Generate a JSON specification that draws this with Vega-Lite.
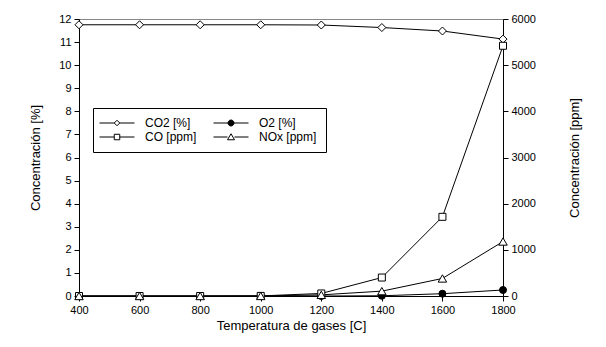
{
  "$schema": "https://vega.github.io/schema/vega-lite/v6.json",
  "width": 424,
  "height": 277,
  "autosize": "none",
  "padding": {"left": 79, "top": 19, "right": 103, "bottom": 51},
  "background": "white",
  "config": {
    "font": "Liberation Sans",
    "view": {"stroke": "#888888", "strokeWidth": 1},
    "axis": {
      "domainColor": "black",
      "tickColor": "black",
      "labelColor": "black",
      "titleColor": "black",
      "labelFontSize": 11,
      "titleFontSize": 13,
      "titleFontWeight": "normal",
      "grid": false,
      "tickSize": 5,
      "labelPadding": 3,
      "labelFlush": false
    },
    "legend": {"labelFontSize": 12, "labelColor": "black"}
  },
  "data": {
    "values": [
      {"T": 400, "serie": "CO2 [%]", "v": 11.75},
      {"T": 600, "serie": "CO2 [%]", "v": 11.75},
      {"T": 800, "serie": "CO2 [%]", "v": 11.75},
      {"T": 1000, "serie": "CO2 [%]", "v": 11.75},
      {"T": 1200, "serie": "CO2 [%]", "v": 11.74},
      {"T": 1400, "serie": "CO2 [%]", "v": 11.63},
      {"T": 1600, "serie": "CO2 [%]", "v": 11.48},
      {"T": 1800, "serie": "CO2 [%]", "v": 11.13},
      {"T": 400, "serie": "O2 [%]", "v": 0},
      {"T": 600, "serie": "O2 [%]", "v": 0},
      {"T": 800, "serie": "O2 [%]", "v": 0},
      {"T": 1000, "serie": "O2 [%]", "v": 0},
      {"T": 1200, "serie": "O2 [%]", "v": 0},
      {"T": 1400, "serie": "O2 [%]", "v": 0.01},
      {"T": 1600, "serie": "O2 [%]", "v": 0.1},
      {"T": 1800, "serie": "O2 [%]", "v": 0.26},
      {"T": 400, "serie": "CO [ppm]", "v": 0},
      {"T": 600, "serie": "CO [ppm]", "v": 0},
      {"T": 800, "serie": "CO [ppm]", "v": 0},
      {"T": 1000, "serie": "CO [ppm]", "v": 2},
      {"T": 1200, "serie": "CO [ppm]", "v": 55},
      {"T": 1400, "serie": "CO [ppm]", "v": 400},
      {"T": 1600, "serie": "CO [ppm]", "v": 1715},
      {"T": 1800, "serie": "CO [ppm]", "v": 5420},
      {"T": 400, "serie": "NOx [ppm]", "v": 0},
      {"T": 600, "serie": "NOx [ppm]", "v": 0},
      {"T": 800, "serie": "NOx [ppm]", "v": 0},
      {"T": 1000, "serie": "NOx [ppm]", "v": 1},
      {"T": 1200, "serie": "NOx [ppm]", "v": 25},
      {"T": 1400, "serie": "NOx [ppm]", "v": 105},
      {"T": 1600, "serie": "NOx [ppm]", "v": 380},
      {"T": 1800, "serie": "NOx [ppm]", "v": 1180}
    ]
  },
  "layer": [
    {
      "transform": [{"filter": "datum.serie == 'CO2 [%]' || datum.serie == 'O2 [%]'"}],
      "encoding": {
        "x": {
          "field": "T", "type": "quantitative",
          "scale": {"domain": [400, 1800], "nice": false, "zero": false},
          "axis": {"values": [400, 600, 800, 1000, 1200, 1400, 1600, 1800], "format": "d", "title": "Temperatura de gases [C]", "titlePadding": 4}
        },
        "y": {
          "field": "v", "type": "quantitative",
          "scale": {"domain": [0, 12], "nice": false},
          "axis": {"orient": "left", "values": [0,1,2,3,4,5,6,7,8,9,10,11,12], "title": "Concentración [%]", "titlePadding": 16}
        }
      },
      "layer": [
        {"mark": {"type": "line", "color": "black", "strokeWidth": 1}, "encoding": {"detail": {"field": "serie"}}},
        {"transform": [{"filter": "datum.serie == 'CO2 [%]'"}], "mark": {"type": "point", "shape": "diamond", "size": 64, "filled": true, "fill": "white", "stroke": "black", "strokeWidth": 1, "opacity": 1}},
        {"transform": [{"filter": "datum.serie == 'O2 [%]'"}], "mark": {"type": "point", "shape": "circle", "size": 49, "filled": true, "fill": "black", "stroke": "black", "strokeWidth": 1, "opacity": 1}}
      ]
    },
    {
      "transform": [{"filter": "datum.serie == 'CO [ppm]' || datum.serie == 'NOx [ppm]'"}],
      "encoding": {
        "x": {"field": "T", "type": "quantitative", "scale": {"domain": [400, 1800], "nice": false, "zero": false}},
        "y": {
          "field": "v", "type": "quantitative",
          "scale": {"domain": [0, 6000], "nice": false},
          "axis": {"orient": "right", "values": [0,1000,2000,3000,4000,5000,6000], "format": "d", "title": "Concentración [ppm]", "titleAngle": 270, "titlePadding": 46}
        }
      },
      "layer": [
        {"mark": {"type": "line", "color": "black", "strokeWidth": 1}, "encoding": {"detail": {"field": "serie"}}},
        {"transform": [{"filter": "datum.serie == 'CO [ppm]'"}], "mark": {"type": "point", "shape": "square", "size": 49, "filled": true, "fill": "white", "stroke": "black", "strokeWidth": 1, "opacity": 1}},
        {"transform": [{"filter": "datum.serie == 'NOx [ppm]'"}], "mark": {"type": "point", "shape": "triangle-up", "size": 72, "filled": true, "fill": "white", "stroke": "black", "strokeWidth": 1, "opacity": 1}}
      ]
    },
    {
      "transform": [{"filter": "false"}],
      "mark": {"type": "point", "stroke": "black", "strokeWidth": 1, "opacity": 1, "filled": true},
      "encoding": {
        "shape": {
          "field": "serie", "type": "nominal",
          "scale": {
            "domain": ["CO2 [%]", "O2 [%]", "CO [ppm]", "NOx [ppm]"],
            "range": [
              "M-3.5,0H-0.55M0.55,0H3.5M0,-0.55L0.55,0L0,0.55L-0.55,0Z",
              "M-3.5,0H-0.6M0.6,0H3.5M0.6,0A0.6,0.6 0 1,1 -0.6,0A0.6,0.6 0 1,1 0.6,0Z",
              "M-3.5,0H-0.55M0.55,0H3.5M-0.55,-0.55H0.55V0.55H-0.55Z",
              "M-3.5,0H-0.7M0.7,0H3.5M0,-0.65L0.7,0.55L-0.7,0.55Z"
            ]
          },
          "legend": {
            "orient": "none", "legendX": 14, "legendY": 89, "columns": 2, "direction": "horizontal", "title": null,
            "strokeColor": "black", "fillColor": "white", "padding": 9,
            "symbolSize": 100, "symbolStrokeWidth": 1, "symbolStrokeColor": "black", "symbolOpacity": 1, "symbolOffset": 9,
            "labelFontSize": 12, "labelOffset": 22, "columnPadding": 14, "rowPadding": 2,
            "encode": {"symbols": {"update": {"stroke": {"value": "black"}, "strokeWidth": {"value": 1}, "opacity": {"value": 1}}}}
          }
        },
        "fill": {
          "field": "serie", "type": "nominal",
          "scale": {"domain": ["CO2 [%]", "O2 [%]", "CO [ppm]", "NOx [ppm]"], "range": ["white", "black", "white", "white"]},
          "legend": {
            "orient": "none", "legendX": 14, "legendY": 89, "columns": 2, "direction": "horizontal", "title": null,
            "strokeColor": "black", "fillColor": "white", "padding": 9,
            "symbolSize": 100, "symbolStrokeWidth": 1, "symbolStrokeColor": "black", "symbolOpacity": 1, "symbolOffset": 9,
            "labelFontSize": 12, "labelOffset": 22, "columnPadding": 14, "rowPadding": 2,
            "encode": {"symbols": {"update": {"stroke": {"value": "black"}, "strokeWidth": {"value": 1}, "opacity": {"value": 1}}}}
          }
        }
      }
    }
  ],
  "resolve": {"scale": {"y": "independent"}}
}
